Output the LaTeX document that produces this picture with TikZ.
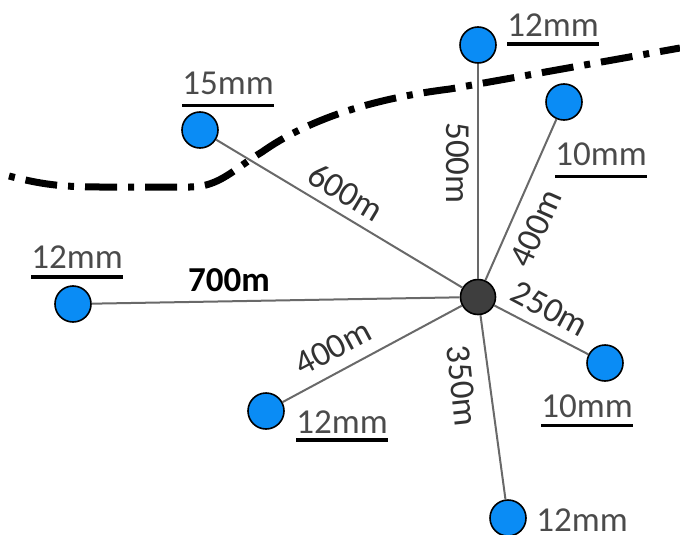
\documentclass[tikz,border=0pt]{standalone}
\usepackage{fontspec}
\setmainfont{Carlito}
\definecolor{hydblue}{RGB}{10,140,245}
\definecolor{hubgray}{RGB}{62,62,62}
\definecolor{edgegray}{RGB}{105,105,105}
\definecolor{labgray}{RGB}{75,75,75}
\definecolor{distgray}{RGB}{50,50,50}
\begin{document}
\begin{tikzpicture}[x=1pt,y=-1pt,
  pipe/.style={draw=edgegray, line width=2pt},
  hyd/.style={circle, draw=black, line width=1.6pt, fill=hydblue, minimum size=36pt, inner sep=0pt},
  hub/.style={circle, draw=black, line width=1.6pt, fill=hubgray, minimum size=35pt, inner sep=0pt},
  dia/.style={font=\fontsize{35}{40}\selectfont, text=labgray, inner sep=0pt, anchor=base},
  dist/.style={font=\fontsize{35}{40}\selectfont, text=distgray, inner sep=0pt},
  uline/.style={line width=3.5pt, black},
  border/.style={line width=7pt, black, dash pattern=on 6pt off 11pt on 32pt off 11pt}
]
\useasboundingbox (0,0) rectangle (680,535);

% rain gauges
\node[hub] (hub) at (478,297) {};
\node[hyd] (n1) at (478,45) {};
\node[hyd] (n2) at (564,102) {};
\node[hyd] (n3) at (200,130) {};
\node[hyd] (n4) at (73,304) {};
\node[hyd] (n5) at (266,411) {};
\node[hyd] (n6) at (605,363) {};
\node[hyd] (n7) at (508,518) {};

% connectors
\draw[pipe] (hub) -- (n1);
\draw[pipe] (hub) -- (n2);
\draw[pipe] (hub) -- (n3);
\draw[pipe] (hub) -- (n4);
\draw[pipe] (hub) -- (n5);
\draw[pipe] (hub) -- (n6);
\draw[pipe] (hub) -- (n7);

% boundary
\draw[border] (9,176) .. controls (40,184) and (60,187) .. (100,187) -- (190,187)
  .. controls (220,187) and (235,168) .. (262,152)
  .. controls (300,125) and (360,100) .. (450,89) -- (680,48);

% distance labels
\node[dist, rotate=-90] (d1) at (458,163) {500m};
\node[dist, rotate=-31] (d3) at (346,192) {600m};
\node[dist, rotate=66] (d2) at (536,228) {400m};
\node[dist, font=\fontsize{35}{40}\selectfont\bfseries, text=black] (d4) at (229,280) {700m};
\node[dist, rotate=-28] (d6) at (550,309) {250m};
\node[dist, rotate=28] (d5) at (333,348) {400m};
\node[dist, rotate=-84] (d7) at (462,386) {350m};

% rainfall labels
\node[dia] (l1) at (553,37) {12mm};
\node[dia] (l2) at (601,165) {10mm};
\node[dia] (l3) at (228,95) {15mm};
\node[dia] (l4) at (77,268) {12mm};
\node[dia] (l5) at (342,433) {12mm};
\node[dia] (l6) at (587,417) {10mm};
\node[dia] (l7) at (582,531) {12mm};

\draw[uline] ([yshift=-7pt]l1.south west) -- ([yshift=-7pt]l1.south east);
\draw[uline] ([yshift=-11pt]l2.south west) -- ([yshift=-11pt]l2.south east);
\draw[uline] ([yshift=-10pt]l3.south west) -- ([yshift=-10pt]l3.south east);
\draw[uline] ([yshift=-9pt]l4.south west) -- ([yshift=-9pt]l4.south east);
\draw[uline] ([yshift=-7pt]l5.south west) -- ([yshift=-7pt]l5.south east);
\draw[uline] ([yshift=-8pt]l6.south west) -- ([yshift=-8pt]l6.south east);
\end{tikzpicture}
\end{document}
